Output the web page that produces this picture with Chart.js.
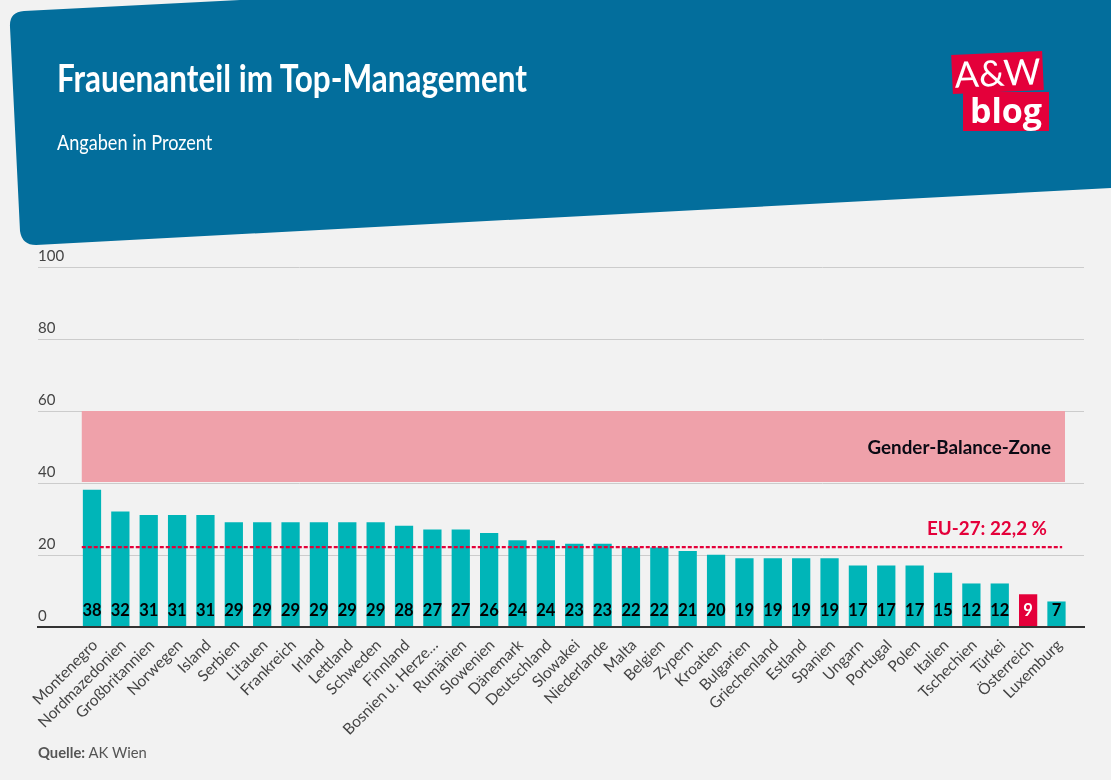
<!DOCTYPE html>
<html lang="de">
<head>
<meta charset="utf-8">
<title>Frauenanteil im Top-Management</title>
<script src="https://cdn.jsdelivr.net/npm/chart.js@4/dist/chart.umd.min.js"></script>
<style>
html,body{margin:0;padding:0;background:#f2f2f2;width:1111px;height:780px;overflow:hidden}
#wrap{position:relative;width:1111px;height:780px;font-family:"Lato",sans-serif}
#head{position:absolute;left:0;top:0}
canvas{position:absolute;left:0;top:0}
#title{position:absolute;left:57px;top:54px;color:#fff;font:bold 38px "Lato",sans-serif;white-space:nowrap;transform-origin:0 0;transform:scaleX(.828)}
#sub{position:absolute;left:57px;top:129px;color:#fff;font:21px "Lato",sans-serif;white-space:nowrap;transform-origin:0 0;transform:scaleX(.862)}
#src{position:absolute;left:38px;top:743px;color:#555;font:14.8px "Lato",sans-serif}
.logo{position:absolute;text-align:center;color:#fff;background:#e4003a}
#l1{left:952px;top:53px;width:91px;height:39px;font:36px/38px "Lato",sans-serif;transform:rotate(-2.5deg)}
#l2{left:963px;top:92px;width:86px;height:39px;font:bold 34px/36px "Open Sans",sans-serif}
</style>
</head>
<body>
<div id="wrap">
<svg id="head" width="1111" height="260"><path d="M24 11 L240 0 L1111 0 L1111 188 L36 245 Q22 245 20 231 L10 27 Q9 12 24 11 Z" fill="#036e9c"/></svg>
<canvas id="c" width="1111" height="780"></canvas>
<div id="title">Frauenanteil im Top-Management</div>
<div id="sub">Angaben in Prozent</div>
<div class="logo" id="l1">A&amp;W</div>
<div class="logo" id="l2">blog</div>
<div id="src"><b>Quelle:</b> AK Wien</div>
</div>
<script>
const countries = ["Montenegro","Nordmazedonien","Großbritannien","Norwegen","Island","Serbien","Litauen","Frankreich","Irland","Lettland","Schweden","Finnland","Bosnien u. Herze…","Rumänien","Slowenien","Dänemark","Deutschland","Slowakei","Niederlande","Malta","Belgien","Zypern","Kroatien","Bulgarien","Griechenland","Estland","Spanien","Ungarn","Portugal","Polen","Italien","Tschechien","Türkei","Österreich","Luxemburg"];
const shares = [38,32,31,31,31,29,29,29,29,29,29,28,27,27,26,24,24,23,23,22,22,21,20,19,19,19,19,17,17,17,15,12,12,9,7];
const yTicks = [0,20,40,60,80,100];
const highlight = "Österreich";
const euAverage = 22.2;
const euLabel = "EU-27: 22,2 %";
const zoneRange = [40,60];
const zoneLabel = "Gender-Balance-Zone";

const TEAL="#00b5b8", RED="#e4003a";
const xMin=-1.903, xMax=34.97, bandL=-0.36, bandR=34.3, lineR=34.2;

const overlay={
  id:'overlay',
  beforeDatasetsDraw(ch){
    const {ctx,scales:{x,y}}=ch;
    const l=x.getPixelForValue(bandL), r=x.getPixelForValue(bandR);
    const t=y.getPixelForValue(zoneRange[1]), b=y.getPixelForValue(zoneRange[0]);
    ctx.save();ctx.fillStyle="#efa1aa";ctx.fillRect(l,t,r-l,b-t-1);ctx.restore();
  },
  afterDatasetsDraw(ch){
    const {ctx,scales:{x,y}}=ch;
    const meta=ch.getDatasetMeta(1);
    ctx.save();
    ctx.textAlign='center';ctx.textBaseline='middle';
    ctx.font='bold 16.5px "Lato",sans-serif';
    meta.data.forEach((bar,i)=>{
      ctx.fillStyle=countries[i]===highlight?'#fff':'#000';
      ctx.fillText(String(shares[i]),bar.x,y.getPixelForValue(0)-16);
    });
    ctx.textAlign='right';
    ctx.font='bold 18.8px "Lato",sans-serif';
    ctx.fillStyle='#0a0a14';
    ctx.fillText(zoneLabel,x.getPixelForValue(bandR)-14,(y.getPixelForValue(zoneRange[0])+y.getPixelForValue(zoneRange[1]))/2+1);
    ctx.fillStyle=RED;
    ctx.fillText(euLabel,x.getPixelForValue(bandR)-18,y.getPixelForValue(euAverage)-18);
    ctx.restore();
  }
};

new Chart(document.getElementById('c'),{
  type:'bar',
  data:{datasets:[
    {type:'line',order:0,data:[{x:bandL,y:euAverage},{x:lineR,y:euAverage}],borderColor:RED,borderWidth:2.4,borderDash:[4,2],pointRadius:0,fill:false},
    {type:'bar',order:1,data:shares.map((v,i)=>({x:i,y:v})),barThickness:17.6,borderWidth:0,
     backgroundColor:countries.map(c=>c===highlight?RED:TEAL)}
  ]},
  options:{
    responsive:false,animation:false,devicePixelRatio:1,
    layout:{padding:{left:38,right:27,top:267,bottom:0}},
    plugins:{legend:{display:false},tooltip:{enabled:false}},
    scales:{
      x:{type:'linear',offset:false,min:xMin,max:xMax,
        afterBuildTicks(s){s.ticks=countries.map((c,i)=>({value:i}));},
        afterFit(s){s.height=153;s.paddingLeft=0;s.paddingRight=0;},
        grid:{display:false},
        border:{display:true,color:'#333',width:2,z:1},
        ticks:{autoSkip:false,minRotation:45,maxRotation:45,padding:1,labelOffset:3,color:'#444',
          font:{family:'Lato',size:15.5},
          callback:v=>countries[v]}
      },
      y:{min:0,max:100,
        afterBuildTicks(s){s.ticks=yTicks.map(v=>({value:v}));},
        afterFit(s){s.width=0;},
        grid:{color:'#ccc',lineWidth:1,drawTicks:false},
        border:{display:false},
        ticks:{mirror:true,padding:0,labelOffset:-10.5,color:'#444',font:{family:'Lato',size:15}}
      }
    }
  },
  plugins:[overlay]
});
</script>
</body>
</html>
